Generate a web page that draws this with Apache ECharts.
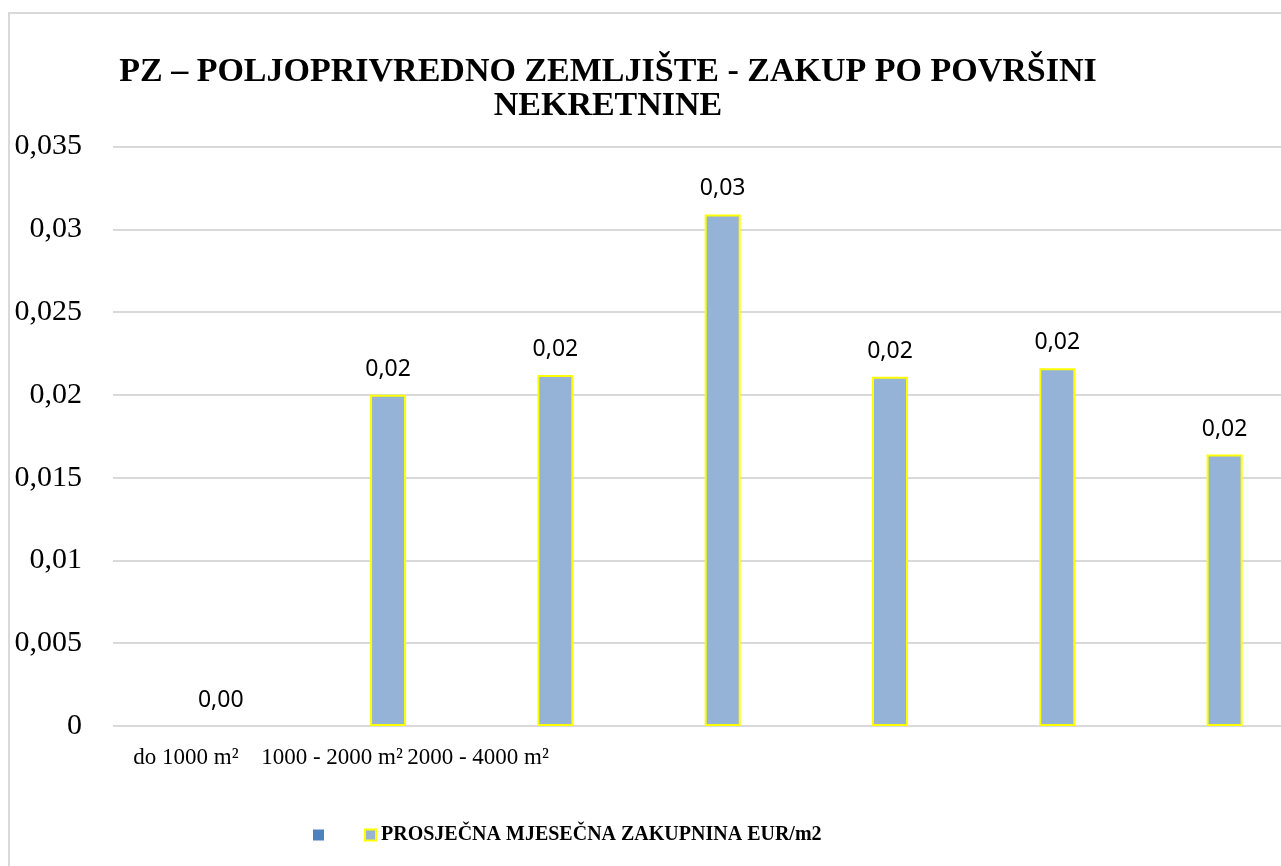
<!DOCTYPE html>
<html>
<head>
<meta charset="utf-8">
<script src="https://cdn.jsdelivr.net/npm/echarts@6/dist/echarts.min.js"></script>
<style>
  html, body { margin: 0; padding: 0; background: #fff; }
  #chart { width: 1281px; height: 866px; }
</style>
</head>
<body>
<div id="chart"></div>
<script>
const titleText = 'PZ – POLJOPRIVREDNO ZEMLJIŠTE - ZAKUP PO POVRŠINI\nNEKRETNINE'
const seriesName = 'PROSJEČNA MJESEČNA ZAKUPNINA EUR/m2'
const categories = ['do 1000 m²', '1000 - 2000 m²', '2000 - 4000 m²', '', '', '', '']
const values = [0, 0.0200, 0.0212, 0.0309, 0.0211, 0.0216, 0.0164]
const yTicks = { min: 0, max: 0.035, interval: 0.005 }

const serif = 'Liberation Serif, Times New Roman, serif'
const fmtComma = (v, d) => String(+v.toFixed(d)).replace('.', ',')

// the plot is cut off on the right, so bars sit on a value axis by category index
const barData = values.map((v, i) => v === 0
  ? { value: [i, v], itemStyle: { borderWidth: 0 } }
  : [i, v])
// label axis has one more empty slot, the labels sit on a narrower band
const labelCats = categories.concat([''])

const chart = echarts.init(document.getElementById('chart'))
chart.setOption({
  animation: false,
  backgroundColor: '#fff',
  title: {
    text: titleText,
    left: 603, top: 50,
    textAlign: 'center',
    textStyle: { fontFamily: serif, fontWeight: 'bold', fontSize: 34, lineHeight: 34, color: '#000' }
  },
  graphic: [{
    type: 'rect', silent: true,
    shape: { x: 9, y: 13, width: 1320, height: 900 },
    style: { fill: 'none', stroke: '#d9d9d9', lineWidth: 2 }
  }],
  legend: {
    data: [' ', seriesName],
    left: 308, top: 820,
    itemWidth: 11, itemHeight: 11, itemGap: 30,
    icon: 'rect',
    textStyle: { fontFamily: serif, fontWeight: 'bold', fontSize: 20, color: '#000' }
  },
  grid: [
    { left: 113, top: 146.5, width: 1168, height: 579.5 },
    { left: 113, top: 146.5, width: 1168, height: 579.5 }
  ],
  xAxis: [
    {
      type: 'value', gridIndex: 0, min: -0.644, max: 6.337,
      axisLine: { show: false }, axisTick: { show: false }, axisLabel: { show: false }, splitLine: { show: false }
    },
    {
      type: 'category', gridIndex: 1, data: labelCats,
      axisLine: { show: false }, axisTick: { show: false },
      axisLabel: { interval: 0, margin: 20, fontFamily: serif, fontSize: 23, color: '#000' }
    }
  ],
  yAxis: [
    {
      type: 'value', gridIndex: 0, min: yTicks.min, max: yTicks.max, interval: yTicks.interval,
      axisLine: { show: false }, axisTick: { show: false }, axisLabel: { show: false }, splitLine: { show: false }
    },
    {
      type: 'value', gridIndex: 1, min: yTicks.min, max: yTicks.max, interval: yTicks.interval,
      axisLine: { show: false }, axisTick: { show: false },
      axisLabel: { margin: 31, fontFamily: serif, fontSize: 30, color: '#000', formatter: v => fmtComma(v, 3) },
      splitLine: { lineStyle: { color: '#d9d9d9', width: 2 } }
    }
  ],
  series: [
    {
      name: ' ', type: 'bar', xAxisIndex: 0, yAxisIndex: 0, data: [],
      itemStyle: { color: '#4f81bd' }
    },
    {
      name: seriesName, type: 'bar', xAxisIndex: 0, yAxisIndex: 0,
      barWidth: 36, barGap: '-100%',
      data: barData,
      itemStyle: { color: '#95b3d7', borderColor: '#ffff00', borderWidth: 2 },
      label: {
        show: true, position: 'top', distance: 14,
        fontFamily: 'Noto Sans', fontSize: 23, color: '#000',
        formatter: p => p.value[1].toFixed(2).replace('.', ',')
      }
    }
  ]
})
window.addEventListener('resize', () => chart.resize())
</script>
</body>
</html>
